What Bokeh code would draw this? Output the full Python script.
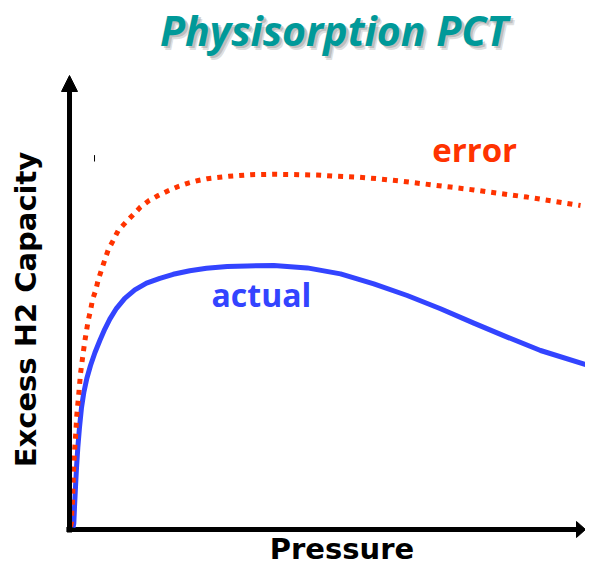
from bokeh.plotting import figure
from bokeh.models import Range1d, Label, Arrow, NormalHead
from bokeh.embed import file_html
from bokeh.resources import INLINE

# ---- data (arbitrary units: pressure 0..100, excess capacity 0..100) ----
pressure_actual = [0.67, 0.83, 0.96, 1.15, 1.35, 1.6, 1.92, 2.31, 2.75, 3.33, 4.04, 4.90,
                   5.83, 6.79, 7.75, 9.04, 10.63, 12.56, 14.81, 17.37, 19.94, 23.13,
                   26.35, 30.33, 34.17, 39.29, 45.71, 52.12, 58.52, 64.94, 71.35, 77.75,
                   84.17, 90.58, 99.87]
capacity_actual = [0.5, 1.5, 5.5, 10.5, 15.5, 20.5, 25.5, 30.5, 34.25, 37.75, 41.0, 44.25,
                   47.25, 50.1, 52.6, 55.3, 57.8, 59.9, 61.6, 62.8, 63.8, 64.7,
                   65.3, 65.75, 65.9, 66.0, 65.4, 63.9, 61.4, 58.5, 55.2, 51.6,
                   48.1, 44.75, 41.0]

pressure_error = [0.19, 0.38, 0.44, 0.58, 0.71, 0.9, 1.15, 1.4, 1.79, 2.12, 2.63, 2.94,
                  3.27, 3.6, 4.04, 4.42, 5.06, 5.52, 6.15, 6.79, 7.44, 8.4, 9.37, 10.83,
                  12.25, 13.65, 15.25, 17.06, 18.98, 20.9, 22.83, 24.75, 26.48, 30.63,
                  34.81, 39.29, 43.13, 47.63, 51.48, 55.33, 59.17, 63.65, 68.13, 73.27,
                  77.75, 82.25, 88.02, 98.27]
capacity_error = [0.75, 1.75, 4.25, 7.25, 12.25, 18.25, 23.0, 28.5, 34.0, 39.0, 44.1, 47.0,
                  49.7, 52.25, 54.75, 57.4, 59.9, 62.4, 64.9, 67.4, 69.9, 72.25, 74.75, 76.8,
                  78.7, 80.6, 82.2, 83.5, 84.7, 85.75, 86.6, 87.25, 87.7, 88.3,
                  88.7, 88.8, 88.75, 88.6, 88.3, 88.1, 87.7, 87.1, 86.4, 85.6,
                  84.9, 84.1, 83.1, 81.0]

title_text = "Physisorption PCT"
x_label = "Pressure"
y_label = "Excess H2 Capacity"
series_labels = ["actual", "error"]

RED = "#ff3300"
BLUE = "#3344ff"
TEAL = "#009999"

X_MIN, X_MAX = -13.27, 99.23
Y_MIN, Y_MAX = -9.25, 132.25
Y_AXIS_TOP = 113.5
X_AXIS_HEAD_START = 97.5   # base of the x-axis arrow head

p = figure(width=585, height=566, output_backend="svg", toolbar_location=None,
           x_range=Range1d(X_MIN, X_MAX), y_range=Range1d(Y_MIN, Y_MAX),
           x_axis_location=None, y_axis_location=None, min_border=0)
p.grid.visible = False
p.outline_line_color = None
p.background_fill_color = "white"
p.border_fill_color = "white"

# hand-drawn axes with arrow heads
p.add_layout(Arrow(x_start=0, y_start=-0.75, x_end=0, y_end=Y_AXIS_TOP, line_width=5,
                   line_color="black",
                   end=NormalHead(size=16, fill_color="black", line_color="black", line_width=1)))
p.segment(x0=[-0.6], y0=[0], x1=[X_AXIS_HEAD_START], y1=[0], line_color="black", line_width=5)
p.patch(x=[X_AXIS_HEAD_START, X_MAX, X_AXIS_HEAD_START], y=[-2.0, 0, 2.0],
        fill_color="black", line_color="black", line_width=1)
# small stray tick
p.segment(x0=[4.81], y0=[92.0], x1=[4.81], y1=[93.6], line_color="black", line_width=1)

# curves
p.line(pressure_actual, capacity_actual, line_color=BLUE, line_width=5, line_join="round")
p.line(pressure_error, capacity_error, line_color=RED, line_width=5, line_dash="5 6",
       line_cap="butt")

# series labels (anchored at the text's middle)
p.add_layout(Label(x=27.3, y=58.8, text=series_labels[0], text_font="Open Sans",
                   text_font_style="bold", text_font_size="32px", text_color=BLUE,
                   text_baseline="middle", text_align="left"))
p.add_layout(Label(x=69.75, y=94.9, text=series_labels[1], text_font="Open Sans",
                   text_font_style="bold", text_font_size="33px", text_color=RED,
                   text_baseline="middle", text_align="left"))

# axis titles
p.add_layout(Label(x=52.4, y=-4.75, text=x_label, text_font="DejaVu Sans",
                   text_font_style="bold", text_font_size="29px", text_color="black",
                   text_baseline="middle", text_align="center"))
p.add_layout(Label(x=-8.33, y=55.0, text=y_label, text_font="DejaVu Sans", angle=1.5707963,
                   text_font_style="bold", text_font_size="29px", text_color="black",
                   text_baseline="middle", text_align="center"))

# title with soft shadow
TITLE_X, TITLE_Y = 50.87, 125.0
for dx, dy, a in [(0.77, -1.0, 0.25), (0.5, -0.6, 0.35)]:
    p.add_layout(Label(x=TITLE_X + dx, y=TITLE_Y + dy, text=title_text, text_font="Open Sans",
                       text_font_style="bold italic", text_font_size="41px",
                       text_color="#808080", text_alpha=a,
                       text_baseline="middle", text_align="center"))
p.add_layout(Label(x=TITLE_X, y=TITLE_Y, text=title_text, text_font="Open Sans",
                   text_font_style="bold italic", text_font_size="41px", text_color=TEAL,
                   text_baseline="middle", text_align="center"))

open("out.html", "w").write(file_html(p, INLINE))
